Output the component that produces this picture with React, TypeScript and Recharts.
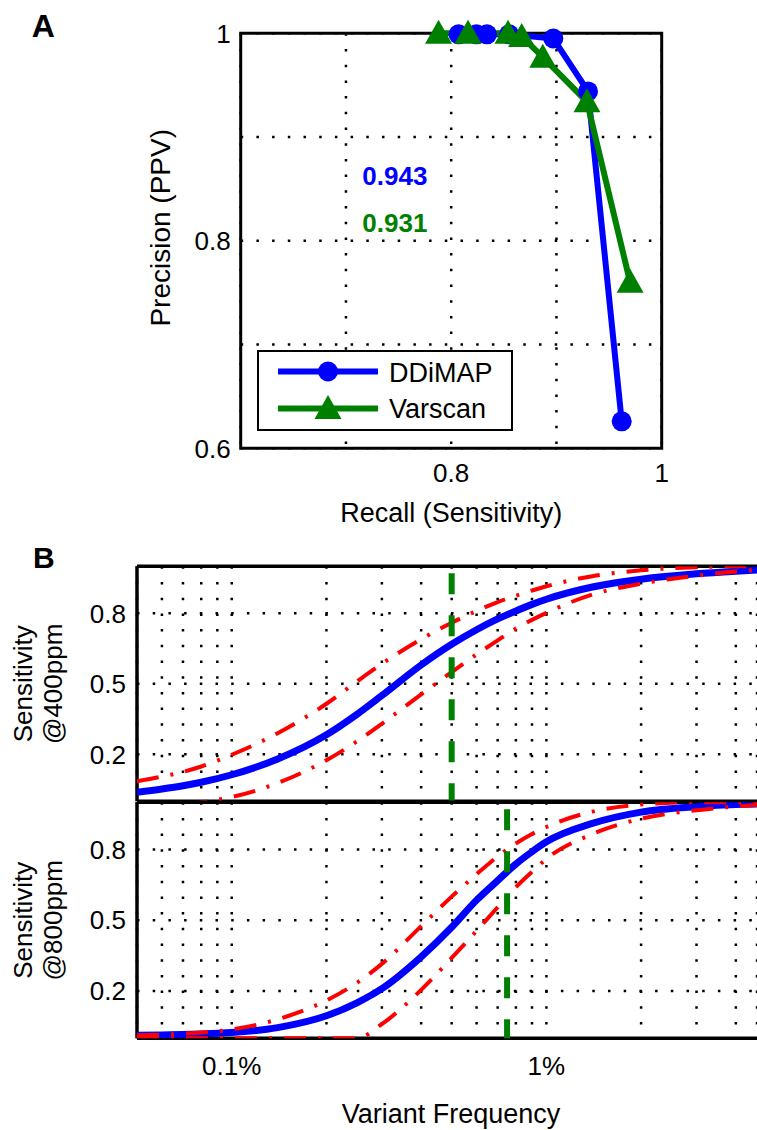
import React from 'react';
import {
  ComposedChart,
  Line,
  XAxis,
  YAxis,
  CartesianGrid,
  ReferenceLine,
  ReferenceArea,
  ReferenceDot,
  Legend,
} from 'recharts';

const FONT = "'Liberation Sans', Arial, Helvetica, sans-serif";

// ---------- Panel A: precision / recall ----------
const ddimapRecall = [0.807, 0.824, 0.834, 0.855, 0.897, 0.93, 0.962];
const ddimapPrecision = [0.999, 0.999, 0.999, 0.999, 0.995, 0.944, 0.626];
const varscanRecall = [0.788, 0.816, 0.854, 0.867, 0.887, 0.929, 0.97];
const varscanPrecision = [1.0, 1.0, 1.0, 0.997, 0.977, 0.934, 0.76];

const aTickValues = [0.6, 0.7, 0.8, 0.9, 1.0];
const aXTickLabels = ['', '', '0.8', '', '1'];
const aYTickLabels = ['0.6', '', '0.8', '', '1'];

const aucTexts = ['0.943', '0.931'];
const aucX = [0.7465, 0.7465];
const aucY = [0.8627, 0.817];
const aucColors = ['#0000ff', '#008000'];

const seriesNames = ['DDiMAP', 'Varscan'];

// ---------- Panel B: sensitivity vs variant frequency (%) ----------
const freqs = [0.05, 0.06, 0.07, 0.08, 0.1, 0.14, 0.2, 0.25, 0.3, 0.4, 0.5, 0.6, 0.7, 0.8, 0.9, 1.0, 1.4, 2, 3, 4, 4.67];

const fit400 = [0.038, 0.052, 0.066, 0.081, 0.113, 0.18, 0.283, 0.37, 0.45, 0.58, 0.668, 0.73, 0.776, 0.81, 0.838, 0.86, 0.912, 0.945, 0.968, 0.979, 0.984];
const upper400 = [0.085, 0.105, 0.125, 0.148, 0.198, 0.29, 0.415, 0.51, 0.585, 0.69, 0.76, 0.81, 0.848, 0.875, 0.897, 0.915, 0.958, 0.983, 0.996, 1.0, 1.0];
const lower400 = [-0.04, -0.03, -0.018, -0.005, 0.018, 0.078, 0.175, 0.255, 0.33, 0.455, 0.55, 0.625, 0.685, 0.735, 0.772, 0.802, 0.88, 0.926, 0.96, 0.978, 0.985];

const fit800 = [0.012, 0.014, 0.016, 0.018, 0.024, 0.045, 0.095, 0.15, 0.21, 0.345, 0.47, 0.585, 0.668, 0.738, 0.79, 0.832, 0.91, 0.958, 0.981, 0.99, 0.992];
const upper800 = [0.012, 0.015, 0.019, 0.024, 0.037, 0.08, 0.16, 0.235, 0.315, 0.475, 0.6, 0.695, 0.77, 0.825, 0.865, 0.895, 0.96, 0.99, 1.0, 1.0, 1.0];
const lower800 = [0, 0, 0, 0, 0, 0, 0, 0, 0.06, 0.205, 0.34, 0.455, 0.555, 0.64, 0.705, 0.76, 0.865, 0.93, 0.966, 0.982, 0.988];

const thresholdFreq = [0.5, 0.75];
const panelBLabels = ['@400ppm', '@800ppm'];

const bTicks = [0.05, 0.06, 0.07, 0.08, 0.09, 0.1, 0.2, 0.3, 0.4, 0.5, 0.6, 0.7, 0.8, 0.9, 1, 2, 3, 4];
const bTickLabels = ['', '', '', '', '', '0.1%', '', '', '', '', '', '', '', '', '1%', '', '', ''];
const bYTicks = [0.2, 0.5, 0.8];

const BLUE = '#0000ff';
const GREEN = '#008000';
const RED = '#ff0000';

const ddimapData = ddimapRecall.map((x, i) => ({ x, y: ddimapPrecision[i] }));
const varscanData = varscanRecall.map((x, i) => ({ x, y: varscanPrecision[i] }));

const rows400 = freqs.map((f, i) => ({ f, fit: fit400[i], up: upper400[i], lo: lower400[i] }));
const rows800 = freqs.map((f, i) => ({ f, fit: fit800[i], up: upper800[i], lo: lower800[i] }));

const tickStyle = { fontFamily: FONT, fontSize: 26, fill: '#000' };
const gridDash = '2.5 13.2';

const triPoints = (cx: number, cy: number) =>
  `${cx},${cy - 13.5} ${cx - 13.5},${cy + 10.5} ${cx + 13.5},${cy + 10.5}`;

const TriangleDot = (props: any) => {
  const { cx, cy, index } = props;
  if (cx == null || cy == null) return <g key={`t-${index}`} />;
  return <polygon key={`t-${index}`} points={triPoints(cx, cy)} fill={GREEN} stroke="none" />;
};

const LegendBox = () => (
  <svg width={256} height={81} style={{ display: 'block' }}>
    <rect x={1} y={1} width={254} height={79} fill="#fff" stroke="#000" strokeWidth={2} />
    <line x1={21} x2={121} y1={21.5} y2={21.5} stroke={BLUE} strokeWidth={6} />
    <circle cx={71} cy={21.5} r={10} fill={BLUE} />
    <text x={132} y={32} fontFamily={FONT} fontSize={27} fill="#000">{seriesNames[0]}</text>
    <line x1={21} x2={121} y1={58.5} y2={58.5} stroke={GREEN} strokeWidth={6} />
    <polygon points={triPoints(71, 58.5)} fill={GREEN} />
    <text x={132} y={67.5} fontFamily={FONT} fontSize={27} fill="#000">{seriesNames[1]}</text>
  </svg>
);

const PanelA = () => (
  <ComposedChart width={757} height={540} margin={{ top: 33.3, right: 95.3, bottom: 31.7, left: 0 }}>
    <CartesianGrid stroke="#000" strokeWidth={2.5} strokeDasharray={gridDash} />
    <XAxis
      type="number"
      dataKey="x"
      domain={[0.6, 1]}
      ticks={aTickValues}
      tickFormatter={(v: number) => aXTickLabels[aTickValues.findIndex((t) => Math.abs(t - v) < 1e-9)] ?? ''}
      axisLine={false}
      tickLine={false}
      tickSize={0}
      tickMargin={15}
      height={60}
      tick={tickStyle}
      label={{
        content: (p: any) => {
          const vb = p.viewBox;
          return (
            <text x={vb.x + vb.width / 2} y={vb.y + 74} textAnchor="middle" fontFamily={FONT} fontSize={27} fill="#000">
              Recall (Sensitivity)
            </text>
          );
        },
      }}
    />
    <YAxis
      type="number"
      dataKey="y"
      domain={[0.6, 1]}
      ticks={aTickValues}
      tickFormatter={(v: number) => aYTickLabels[aTickValues.findIndex((t) => Math.abs(t - v) < 1e-9)] ?? ''}
      axisLine={false}
      tickLine={false}
      tickSize={0}
      tickMargin={10}
      width={240.7}
      tick={tickStyle}
      label={{
        content: (p: any) => {
          const vb = p.viewBox;
          const cy = vb.y + vb.height / 2 - 13;
          return (
            <g>
              <text x={31.7} y={36.7} fontFamily={FONT} fontSize={32} fontWeight="bold" fill="#000">A</text>
              <text
                x={170}
                y={cy}
                transform={`rotate(-90, 170, ${cy})`}
                textAnchor="middle"
                fontFamily={FONT}
                fontSize={28}
                fill="#000"
              >
                Precision (PPV)
              </text>
            </g>
          );
        },
      }}
    />
    <ReferenceArea x1={0.6} x2={1} y1={0.6} y2={1} fill="none" stroke="#000" strokeWidth={3} />
    <Line
      data={ddimapData}
      dataKey="y"
      type="linear"
      stroke={BLUE}
      strokeWidth={6}
      dot={{ r: 10, fill: BLUE, stroke: BLUE, strokeWidth: 0 }}
      activeDot={false}
      isAnimationActive={false}
    />
    <Line
      data={varscanData}
      dataKey="y"
      type="linear"
      stroke={GREEN}
      strokeWidth={6}
      dot={TriangleDot}
      activeDot={false}
      isAnimationActive={false}
    />
    {aucTexts.map((t, i) => (
      <ReferenceDot
        key={t}
        x={aucX[i]}
        y={aucY[i]}
        r={0}
        fill="none"
        stroke="none"
        label={{
          content: (p: any) => {
            const vb = p.viewBox;
            return (
              <text
                x={vb.x + vb.width / 2}
                y={vb.y + vb.height / 2}
                dy="0.355em"
                textAnchor="middle"
                fontFamily={FONT}
                fontSize={26}
                fontWeight="bold"
                fill={aucColors[i]}
              >
                {t}
              </text>
            );
          },
        }}
      />
    ))}
    <Legend
      layout="vertical"
      align="center"
      verticalAlign="middle"
      content={() => <LegendBox />}
      wrapperStyle={{ position: 'absolute', left: 257, top: 350, width: 256, height: 81, margin: 0, padding: 0 }}
    />
  </ComposedChart>
);

type BProps = {
  rows: any[];
  height: number;
  marginTop: number;
  marginBottom: number;
  threshold: number;
  ylabel: string;
  showX: boolean;
  letter?: string;
};

const PanelB = ({ rows, height, marginTop, marginBottom, threshold, ylabel, showX, letter }: BProps) => (
  <ComposedChart width={757} height={height} data={rows} margin={{ top: marginTop, right: 0, bottom: marginBottom, left: 0 }}>
    <CartesianGrid stroke="#000" strokeWidth={2.5} strokeDasharray={gridDash} />
    <XAxis
      type="number"
      dataKey="f"
      scale="log"
      domain={[0.05, 4.67]}
      allowDataOverflow
      ticks={bTicks}
      tickFormatter={(v: number) =>
        showX ? bTickLabels[bTicks.findIndex((t) => Math.abs(t - v) < 1e-9)] ?? '' : ''
      }
      axisLine={false}
      tickLine={false}
      tickSize={0}
      tickMargin={18.5}
      height={showX ? 50 : 0}
      tick={tickStyle}
      interval={0}
      label={
        showX
          ? {
              content: (p: any) => {
                const vb = p.viewBox;
                return (
                  <text x={vb.x + vb.width / 2 + 4} y={vb.y + 85} textAnchor="middle" fontFamily={FONT} fontSize={27} fill="#000">
                    Variant Frequency
                  </text>
                );
              },
            }
          : undefined
      }
    />
    <YAxis
      type="number"
      domain={[0, 1]}
      allowDataOverflow
      ticks={bYTicks}
      axisLine={false}
      tickLine={false}
      tickSize={0}
      tickMargin={11}
      width={137}
      tick={tickStyle}
      label={{
        content: (p: any) => {
          const vb = p.viewBox;
          const cy = vb.y + vb.height / 2;
          return (
            <g>
              {letter ? (
                <text x={33} y={vb.y + 2} fontFamily={FONT} fontSize={30} fontWeight="bold" fill="#000">{letter}</text>
              ) : null}
              <text x={31.6} y={cy} transform={`rotate(-90, 31.6, ${cy})`} textAnchor="middle" fontFamily={FONT} fontSize={26} fill="#000">
                Sensitivity
              </text>
              <text x={61.6} y={cy} transform={`rotate(-90, 61.6, ${cy})`} textAnchor="middle" fontFamily={FONT} fontSize={26} fill="#000">
                {ylabel}
              </text>
            </g>
          );
        },
      }}
    />
    <ReferenceLine y={1} stroke="#000" strokeWidth={3.5} />
    <ReferenceLine y={0} stroke="#000" strokeWidth={3.5} />
    <ReferenceLine x={0.05} stroke="#000" strokeWidth={3.5} />
    <Line dataKey="fit" type="monotone" stroke={BLUE} strokeWidth={7} dot={false} activeDot={false} isAnimationActive={false} />
    <Line dataKey="up" type="monotone" stroke={RED} strokeWidth={4} strokeDasharray="22 12 3 12" dot={false} activeDot={false} isAnimationActive={false} />
    <Line dataKey="lo" type="monotone" stroke={RED} strokeWidth={4} strokeDasharray="22 12 3 12" dot={false} activeDot={false} isAnimationActive={false} />
    <ReferenceLine
      segment={[{ x: threshold, y: 1 }, { x: threshold, y: 0 }]}
      stroke={GREEN}
      strokeWidth={6}
      strokeDasharray="21 21"
      strokeDashoffset={35}
    />
  </ComposedChart>
);

export default function App() {
  return (
    <div style={{ position: 'absolute', left: 0, top: 0, width: 757, height: 1130, overflow: 'hidden', background: '#fff' }}>
      <div style={{ position: 'absolute', left: 0, top: 0 }}>
        <PanelA />
      </div>
      <div style={{ position: 'absolute', left: 0, top: 540 }}>
        <PanelB rows={rows400} height={270} marginTop={26.3} marginBottom={8.7} threshold={thresholdFreq[0]} ylabel={panelBLabels[0]} showX={false} letter="B" />
      </div>
      <div style={{ position: 'absolute', left: 0, top: 790 }}>
        <PanelB rows={rows800} height={340} marginTop={12.2} marginBottom={41.8} threshold={thresholdFreq[1]} ylabel={panelBLabels[1]} showX={true} />
      </div>
    </div>
  );
}
